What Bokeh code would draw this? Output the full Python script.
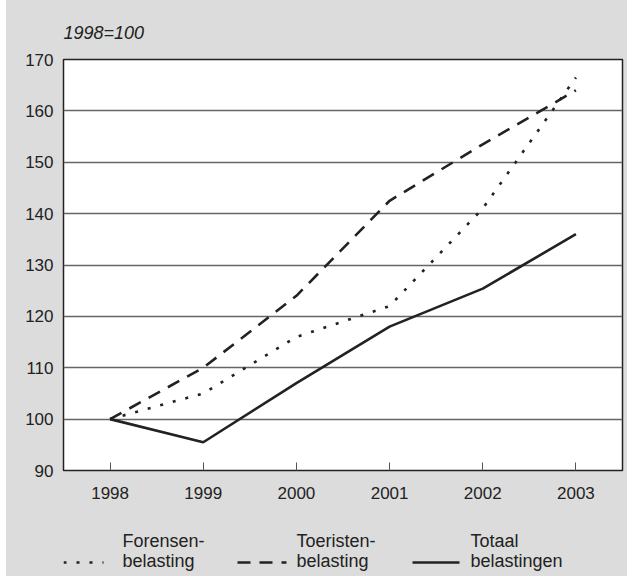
from bokeh.plotting import figure
from bokeh.models import Range1d, FixedTicker
from bokeh.layouts import column
from bokeh.embed import file_html
from bokeh.resources import INLINE
from bokeh.core.properties import value

# ---- data ----
years = [1998, 1999, 2000, 2001, 2002, 2003]
forensen = [100, 105, 116, 122, 141, 166.5]
toeristen = [100, 110, 124, 142.5, 153.5, 164]
totaal = [100, 95.5, 107, 118, 125.4, 136]
y_ticks = [90, 100, 110, 120, 130, 140, 150, 160, 170]
series_labels = ["Forensen-\nbelasting", "Toeristen-\nbelasting", "Totaal\nbelastingen"]
subtitle = "1998=100"

# ---- style ----
BG = "#dcdcdc"
INK = "#222222"
FONT = "Liberation Sans"
DASHES = ["3 10", "13 9", "solid"]

p = figure(width=621, height=510,
           x_range=Range1d(1997.5, 2003.5), y_range=Range1d(90, 170),
           output_backend="svg", toolbar_location=None,
           min_border_left=57, min_border_right=5,
           min_border_top=59, min_border_bottom=40,
           title=subtitle)
p.background_fill_color = "white"
p.border_fill_color = BG
p.outline_line_color = INK
p.outline_line_width = 1.5

p.title.text_font = FONT
p.title.text_font_style = "italic"
p.title.text_font_size = "18px"
p.title.text_color = INK
p.title.align = "left"
p.title.standoff = 34

p.xaxis.ticker = FixedTicker(ticks=years)
p.yaxis.ticker = FixedTicker(ticks=y_ticks)
for ax in (p.xaxis, p.yaxis):
    ax.axis_line_color = None
    ax.minor_tick_line_color = None
    ax.major_label_text_font = FONT
    ax.major_label_text_font_size = "17px"
    ax.major_label_text_color = INK
p.yaxis.major_tick_line_color = None
p.yaxis.major_label_standoff = 4
p.xaxis.major_tick_in = 8
p.xaxis.major_tick_out = 0
p.xaxis.major_tick_line_color = "#555555"
p.xaxis.major_label_standoff = 16

p.xgrid.grid_line_color = None
p.ygrid.grid_line_color = "#666666"
p.ygrid.grid_line_width = 1.5

for ys, dash in zip([forensen, toeristen, totaal], DASHES):
    p.line(years, ys, line_color=INK, line_width=2.6, line_dash=dash)

# ---- legend panel (frame aligned with the plot frame above) ----
lf = figure(width=621, height=66, x_range=Range1d(0, 559), y_range=Range1d(66, 0),
            output_backend="svg", toolbar_location=None, title_location=None,
            x_axis_location=None, y_axis_location=None,
            min_border_left=57, min_border_right=5, min_border_top=0, min_border_bottom=0)
lf.grid.visible = False
lf.outline_line_color = None
lf.background_fill_color = BG
lf.border_fill_color = BG

sample_x = [(0, 40), (174, 223), (349, 396)]
text_x = [59, 233, 407]
sample_y = 52
line_y = [30, 50]
tx, ty, tt = [], [], []
for (x0, x1), tx0, lab, dash in zip(sample_x, text_x, series_labels, DASHES):
    lf.line([x0, x1], [sample_y, sample_y], line_color=INK, line_width=2.6, line_dash=dash)
    for yy, part in zip(line_y, lab.split("\n")):
        tx.append(tx0); ty.append(yy); tt.append(part)
lf.text(x=tx, y=ty, text=tt, text_font=value(FONT), text_font_size="18px",
        text_color=INK, text_baseline="alphabetic", text_align="left")

layout = column(p, lf, spacing=0, margin=(0, 0, 0, 6),
                styles={"background-color": BG})
open("out.html", "w").write(file_html(layout, INLINE))
